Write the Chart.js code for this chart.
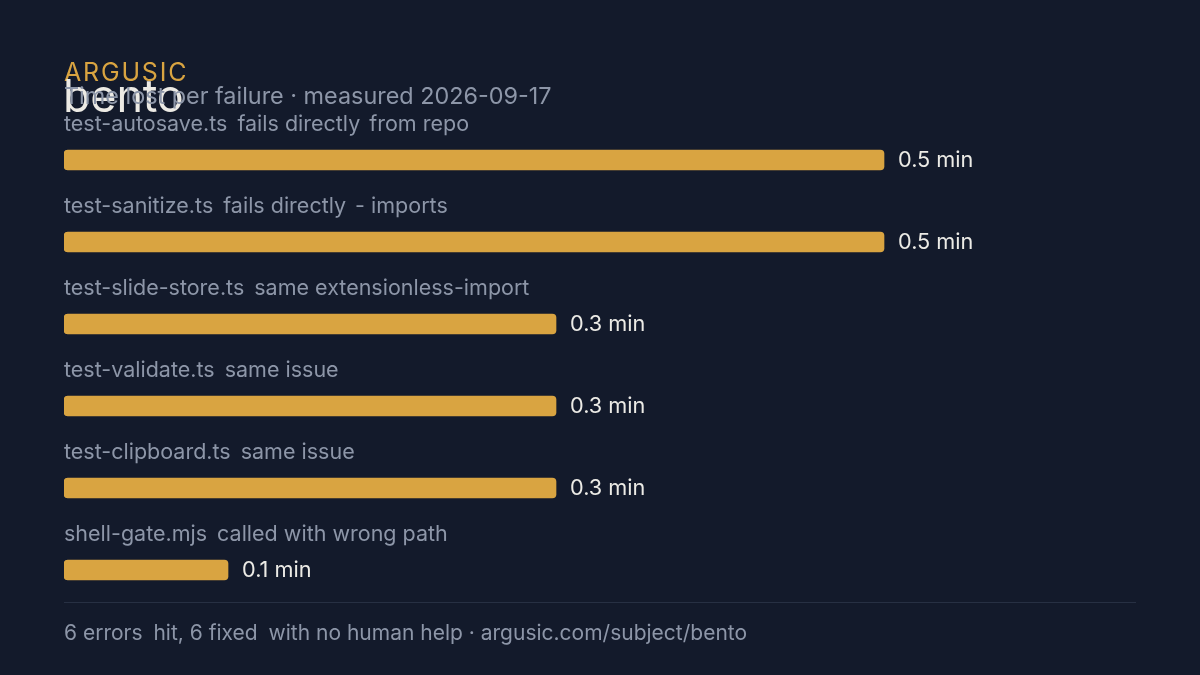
<!DOCTYPE html>
<html>
<head>
<meta charset="utf-8">
<script src="https://cdn.jsdelivr.net/npm/chart.js@4"></script>
<style>
  html, body { margin: 0; padding: 0; background: #131a2b; }
  body { width: 1200px; height: 675px; position: relative; overflow: hidden; font-family: Inter, "Noto Sans", sans-serif; }
  #wrap { position: absolute; left: 0; top: 0; width: 1200px; height: 675px; }
  .t { position: absolute; white-space: pre; line-height: 1; }
  #brand { left: 64px; top: 60px; font-size: 25px; color: #d9a441; letter-spacing: 1.8px; }
  #name { left: 63px; top: 73px; font-size: 45px; color: #eceae4; letter-spacing: -0.2px; }
  #sub { left: 64px; top: 84px; font-size: 23.4px; color: #8d96a8; }
  #rule { position: absolute; left: 64px; top: 602px; width: 1072px; height: 1px; background: #273043; }
  #foot { left: 64px; top: 622px; font-size: 21px; color: #8d96a8; }
  .g { margin-left: 5px; }
</style>
</head>
<body>
<div id="wrap"><canvas id="c" width="1200" height="675"></canvas></div>
<div class="t" id="brand">ARGUSIC</div>
<div class="t" id="name">bento</div>
<div class="t" id="sub">Time lost per failure · measured 2026-09-17</div>
<div id="rule"></div>
<div class="t" id="foot">6 errors <span class="g">hit, 6 fixed </span><span class="g">with no human help · argusic.com/subject/bento</span></div>
<script>
const files = ["test-autosave.ts", "test-sanitize.ts", "test-slide-store.ts", "test-validate.ts", "test-clipboard.ts", "shell-gate.mjs"];
const notes = ["fails directly  from repo", "fails directly  - imports", "same extensionless-import", "same issue", "same issue", "called with wrong path"];
const minutes = [0.5, 0.5, 0.3, 0.3, 0.3, 0.1];
const valueLabels = ["0.5 min", "0.5 min", "0.3 min", "0.3 min", "0.3 min", "0.1 min"];

const FONT = 'Inter, "Noto Sans", sans-serif';

function drawSegments(ctx, text, x, y) {
  const parts = text.split("  ");
  let cx = x;
  parts.forEach((p, i) => {
    ctx.fillText(p, cx, y);
    cx += ctx.measureText(p).width + 9;
  });
  return cx;
}

const labelPlugin = {
  id: 'rowLabels',
  afterDatasetsDraw(chart) {
    const ctx = chart.ctx;
    const meta = chart.getDatasetMeta(0);
    ctx.save();
    ctx.textBaseline = 'middle';
    ctx.textAlign = 'left';
    meta.data.forEach((bar, i) => {
      const yc = bar.y;
      ctx.font = '21.5px ' + FONT;
      ctx.fillStyle = '#8d96a8';
      let x = chart.chartArea.left;
      ctx.fillText(files[i], x, yc - 35);
      x += ctx.measureText(files[i]).width + 10;
      drawSegments(ctx, notes[i], x, yc - 35);
      ctx.font = '21.7px ' + FONT;
      ctx.fillStyle = '#ecebe6';
      ctx.fillText(valueLabels[i], bar.x + 14, yc);
    });
    ctx.restore();
  }
};

new Chart(document.getElementById('c'), {
  type: 'bar',
  data: {
    labels: files,
    datasets: [{
      data: minutes,
      backgroundColor: '#d9a441',
      borderRadius: 4,
      borderSkipped: false,
      barThickness: 20
    }]
  },
  options: {
    indexAxis: 'y',
    responsive: false,
    animation: false,
    events: [],
    layout: { padding: { left: 64, right: 70, top: 119, bottom: 64 } },
    plugins: { legend: { display: false }, tooltip: { enabled: false }, title: { display: false } },
    scales: {
      x: { display: false, min: 0, max: 0.65 },
      y: { display: false, offset: true }
    }
  },
  plugins: [labelPlugin]
});
</script>
</body>
</html>
